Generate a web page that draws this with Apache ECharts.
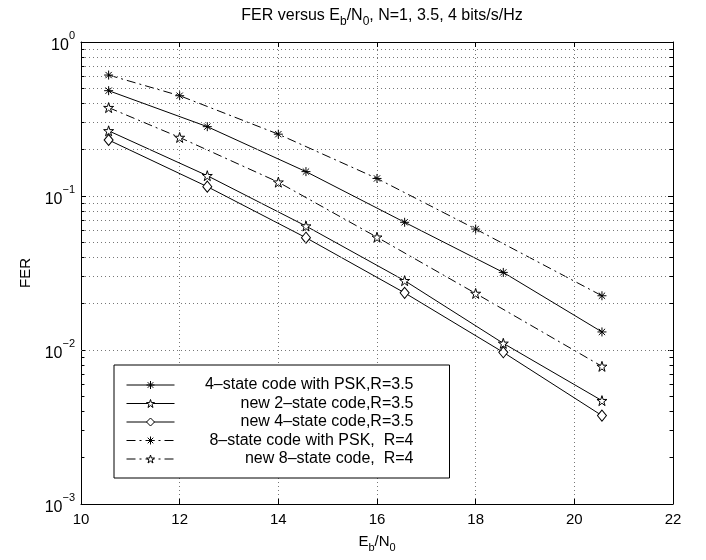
<!DOCTYPE html>
<html>
<head>
<meta charset="utf-8" />
<title>FER versus Eb/N0</title>
<script src="https://cdn.jsdelivr.net/npm/echarts@6/dist/echarts.min.js"></script>
</head>
<body style="margin:0">
<div id="main" style="width:706px;height:560px;"></div>
<script>
// x positions (Eb/N0, dB)
const ebnoSolid = [10.56, 12.56, 14.56, 16.56, 18.56, 20.56];
const ebnoDash = [10.56, 12, 14, 16, 18, 20.56];
// FER values
const psk4 = [0.483, 0.282, 0.144, 0.0675, 0.0319, 0.0131];
const new2 = [0.265, 0.1355, 0.0638, 0.0282, 0.01105, 0.00469];
const new4 = [0.231, 0.115, 0.0536, 0.0235, 0.00966, 0.00375];
const psk8 = [0.61, 0.448, 0.252, 0.130, 0.061, 0.0225];
const new8 = [0.375, 0.240, 0.123, 0.054, 0.0233, 0.00783];
const names = [
  '4\u2013state code with PSK,R=3.5',
  'new 2\u2013state code,R=3.5',
  'new 4\u2013state code,R=3.5',
  '8\u2013state code with PSK,  R=4',
  'new 8\u2013state code,  R=4'
];
const decades = [0.001, 0.01, 0.1];
const minorSteps = [2, 3, 4, 5, 6, 7, 8, 9];

const FONT = 'Liberation Sans';
const asterisk = 'path://M0,5L10,5M5,0L5,10M1.5,1.5L8.5,8.5M8.5,1.5L1.5,8.5';
const star = 'path://M50,0L61.2,34.6L97.6,34.5L68.1,55.9L79.4,90.5L50,69L20.6,90.5L31.9,55.9L2.4,34.5L38.8,34.6Z';
const dashDot = [9, 4, 2, 4];
const dotted = { color: '#777', width: 1, type: [1, 3] };

const minorVals = [];
decades.forEach(d => minorSteps.forEach(m => minorVals.push(+(d * m).toPrecision(3))));

// dotted minor grid + small minor ticks on both sides
const minorLines = [];
minorVals.forEach(v => {
  minorLines.push({ yAxis: v });
  minorLines.push([{ coord: [10, v], lineStyle: { type: 'solid', color: '#000' } }, { coord: [10.07, v] }]);
  minorLines.push([{ coord: [21.93, v], lineStyle: { type: 'solid', color: '#000' } }, { coord: [22, v] }]);
});

function pts(xs, ys) { return xs.map((x, i) => [x, ys[i]]); }

function mkSeries(name, xs, ys, symbol, size, lineType) {
  return {
    name: name,
    type: 'line',
    data: pts(xs, ys),
    symbol: symbol,
    symbolSize: size,
    showSymbol: true,
    lineStyle: { color: '#000', width: 1, type: lineType },
    itemStyle: { color: '#fff', borderColor: '#000', borderWidth: 1 },
    emphasis: { disabled: true },
    animation: false
  };
}

const series = [
  mkSeries(names[0], ebnoSolid, psk4, asterisk, 9, 'solid'),
  mkSeries(names[1], ebnoSolid, new2, star, 10, 'solid'),
  mkSeries(names[2], ebnoSolid, new4, 'diamond', [9, 11], 'solid'),
  mkSeries(names[3], ebnoDash, psk8, asterisk, 9, dashDot),
  mkSeries(names[4], ebnoDash, new8, star, 10, dashDot)
];
series[0].markLine = {
  silent: true,
  symbol: 'none',
  label: { show: false },
  animation: false,
  lineStyle: dotted,
  data: minorLines
};

function supLabel(v) {
  const e = Math.round(Math.log10(v));
  return '{b|10}{s|' + (e < 0 ? '\u2212' + (-e) : e) + '}';
}

function subRich(size) {
  return {
    a: { fontFamily: FONT, fontSize: size, fontWeight: 'normal', color: '#000', verticalAlign: 'top', padding: [0, 0, 4, 0] },
    s: { fontFamily: FONT, fontSize: size - 4, fontWeight: 'normal', color: '#000', verticalAlign: 'bottom' }
  };
}

const chart = echarts.init(document.getElementById('main'));
chart.setOption({
  backgroundColor: '#fff',
  animation: false,
  textStyle: { fontFamily: FONT },
  title: {
    text: '{a|FER versus E}{s|b}{a|/N}{s|0}{a|, N=1, 3.5, 4 bits/s/Hz}',
    left: 377,
    textAlign: 'center',
    top: 3,
    textStyle: { fontWeight: 'normal', rich: subRich(16) }
  },
  grid: { left: 81, top: 42, right: 33, bottom: 56 },
  legend: {
    orient: 'vertical',
    left: 114,
    top: 365,
    data: names,
    itemWidth: 48,
    itemHeight: 10,
    itemGap: 2.5,
    itemStyle: { color: '#fff', borderColor: '#000', borderWidth: 1 },
    lineStyle: { width: 1, color: '#000', type: 'inherit' },
    padding: [12, 36, 11, 12],
    backgroundColor: '#fff',
    borderColor: '#000',
    borderWidth: 1,
    borderRadius: 0,
    selectedMode: false,
    formatter: n => '{t|' + n + '}',
    textStyle: {
      rich: { t: { fontFamily: FONT, fontSize: 16, color: '#000', lineHeight: 16, width: 234, align: 'right' } }
    }
  },
  xAxis: [{
    type: 'value',
    min: 10,
    max: 22,
    interval: 2,
    name: '{a|E}{s|b}{a|/N}{s|0}',
    nameLocation: 'middle',
    nameGap: 30,
    nameTextStyle: { rich: subRich(15) },
    axisLine: { show: true, onZero: false, lineStyle: { color: '#000', width: 1 } },
    axisTick: { show: true, inside: true, length: 5, lineStyle: { color: '#000' } },
    axisLabel: { fontFamily: FONT, fontSize: 15, color: '#000', margin: 8 },
    splitLine: { show: true, lineStyle: dotted }
  }, {
    type: 'value',
    position: 'top',
    min: 10,
    max: 22,
    interval: 2,
    axisLine: { show: true, onZero: false, lineStyle: { color: '#000', width: 1 } },
    axisTick: { show: true, inside: true, length: 5, lineStyle: { color: '#000' } },
    axisLabel: { show: false },
    splitLine: { show: false }
  }],
  yAxis: [{
    type: 'log',
    logBase: 10,
    min: 0.001,
    max: 1,
    name: 'FER',
    nameLocation: 'middle',
    nameGap: 48,
    nameRotate: 90,
    nameTextStyle: { fontFamily: FONT, fontSize: 15, color: '#000' },
    axisLine: { show: true, onZero: false, lineStyle: { color: '#000', width: 1 } },
    axisTick: { show: true, inside: true, length: 5, lineStyle: { color: '#000' } },
    axisLabel: {
      margin: 6,
      formatter: supLabel,
      rich: {
        b: { fontFamily: FONT, fontSize: 16, color: '#000', verticalAlign: 'bottom', padding: [7, 0, 0, 0] },
        s: { fontFamily: FONT, fontSize: 11, color: '#000', verticalAlign: 'top' }
      }
    },
    splitLine: { show: true, lineStyle: dotted }
  }, {
    type: 'log',
    logBase: 10,
    min: 0.001,
    max: 1,
    position: 'right',
    axisLine: { show: true, onZero: false, lineStyle: { color: '#000', width: 1 } },
    axisTick: { show: true, inside: true, length: 5, lineStyle: { color: '#000' } },
    axisLabel: { show: false },
    splitLine: { show: false }
  }],
  series: series
});
</script>
</body>
</html>
